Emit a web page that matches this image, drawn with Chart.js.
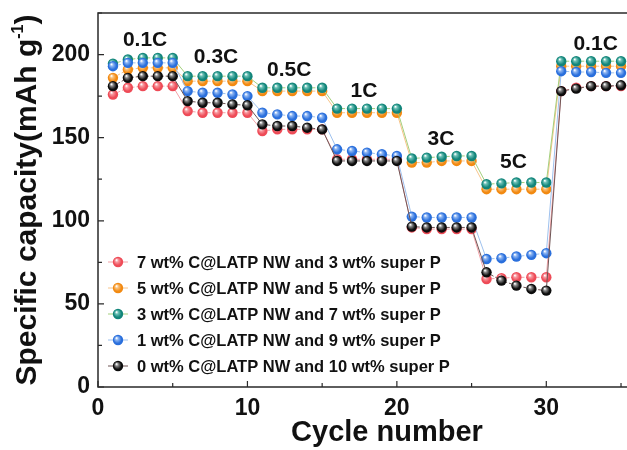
<!DOCTYPE html>
<html>
<head>
<meta charset="utf-8">
<script src="https://cdn.jsdelivr.net/npm/chart.js@4.4.1/dist/chart.umd.min.js"></script>
<style>
  html, body { margin: 0; padding: 0; background: #fff; }
  #wrap { width: 627px; height: 450px; }
</style>
</head>
<body>
<div id="wrap"><canvas id="chart" width="627" height="450"></canvas></div>
<script>
// Cycle numbers (x axis)
const cycles = [1, 2, 3, 4, 5, 6, 7, 8, 9, 10, 11, 12, 13, 14, 15, 16, 17, 18,
  19, 20, 21, 22, 23, 24, 25, 26, 27, 28, 29, 30, 31, 32, 33, 34, 35]

// Specific capacity (mAh g-1)
const red7 = [176, 180, 181, 181, 181, 166, 165, 165, 165, 165, 154, 155, 155, 155, 155,
  137, 137, 137, 137, 137, 96, 95, 95, 95, 95, 65, 65.5, 66, 66, 66, 178, 180, 181, 181, 181]
const orange5 = [186, 191, 192, 192, 192, 184, 184, 184, 184, 184, 178, 178, 178, 178, 178,
  165, 165, 165, 165, 165, 135, 135, 136, 136, 136, 119, 119, 119, 119, 119, 193, 193, 193, 193, 193]
const teal3 = [194.5, 197, 198, 198, 198, 187, 187, 187, 187, 187, 180, 180, 180, 180, 180,
  167.5, 167.5, 167.5, 167.5, 167.5, 137.5, 138, 138.5, 139, 139, 122, 122.5, 123, 123, 123,
  196, 196, 196, 196, 196]
const blue1 = [193, 195, 195, 195, 195, 178, 177, 177, 176, 175, 165, 164, 163, 163, 162,
  143, 142, 141, 140, 139, 102.5, 102, 102, 102, 102, 77, 77.5, 78.5, 79.5, 80.5,
  190, 189.5, 189.5, 189, 189]
const black0 = [181, 186, 187, 187, 187, 172, 171, 171, 170, 169.5, 158, 157, 157, 156, 155,
  136, 136, 136, 136, 136, 96.5, 96, 96, 96, 96, 69, 64, 61, 59, 58, 178, 179.5, 181, 181, 181.5]

const seriesLabels = [
  "7 wt% C@LATP NW and 3 wt% super P",
  "5 wt% C@LATP NW and 5 wt% super P",
  "3 wt% C@LATP NW and 7 wt% super P",
  "1 wt% C@LATP NW and 9 wt% super P",
  "0 wt% C@LATP NW and 10 wt% super P",
]

// C-rate annotations
const rateLabels = ["0.1C", "0.3C", "0.5C", "1C", "3C", "5C", "0.1C"]
const rateCycle = [3.15, 7.9, 12.8, 17.8, 22.95, 27.8, 33.3]
const rateValue = [208.5, 198.5, 190.5, 178, 149, 135, 206.5]

const xTicks = [0, 5, 10, 15, 20, 25, 30, 35]
const yTicks = [0, 25, 50, 75, 100, 125, 150, 175, 200, 225]

const FONT = "'Liberation Sans', Arial, sans-serif"

// Shaded sphere look for the markers
function sphere(base, light) {
  return (ctx) => {
    if (ctx.type !== "data" || !ctx.raw) return base
    const chart = ctx.chart
    const px = chart.scales.x.getPixelForValue(ctx.raw.x)
    const py = chart.scales.y.getPixelForValue(ctx.raw.y)
    if (!isFinite(px) || !isFinite(py)) return base
    const g = chart.ctx.createRadialGradient(px - 1.6, py - 2, 0.3, px, py, 5.5)
    g.addColorStop(0, "#ffffff")
    g.addColorStop(0.25, light)
    g.addColorStop(0.7, base)
    g.addColorStop(1, base)
    return g
  }
}

const styles = [
  { fill: "#ee4b57", light: "#f79aa0", line: "#f3a3a8" },
  { fill: "#f28a12", light: "#f9c27e", line: "#f8c48a" },
  { fill: "#12857a", light: "#6cc1b6", line: "#a3cf7c" },
  { fill: "#2a6fdc", light: "#8db5f2", line: "#9ec1ee" },
  { fill: "#0c0c0c", light: "#8a8a8a", line: "#6e5454" },
]

const values = [red7, orange5, teal3, blue1, black0]

const datasets = values.map((vals, i) => ({
  label: seriesLabels[i],
  data: cycles.map((c, k) => ({ x: c, y: vals[k] })),
  order: 4 - i,
  borderColor: styles[i].line,
  borderWidth: 1,
  pointRadius: 5.2,
  pointBorderWidth: 0,
  pointBackgroundColor: sphere(styles[i].fill, styles[i].light),
  segment: {
    borderDash: (ctx) =>
      Math.floor((ctx.p0DataIndex) / 5) === Math.floor((ctx.p1DataIndex) / 5) ? [3, 2] : undefined,
  },
  borderDash: [],
  tension: 0,
}))

const decorPlugin = {
  id: "decor",
  afterDatasetsDraw(chart) {
    const { ctx, chartArea: a, scales: { x, y } } = chart
    ctx.save()

    // Frame
    ctx.strokeStyle = "#2a2a2a"
    ctx.lineWidth = 1.5
    ctx.beginPath()
    ctx.moveTo(a.right, a.top)
    ctx.lineTo(a.left, a.top)
    ctx.lineTo(a.left, a.bottom)
    ctx.lineTo(a.right, a.bottom)
    ctx.stroke()

    // Inward ticks
    ctx.lineWidth = 1.2
    ctx.beginPath()
    xTicks.forEach((v) => {
      const px = x.getPixelForValue(v)
      const len = v % 10 === 0 ? 6 : 4
      ctx.moveTo(px, a.bottom)
      ctx.lineTo(px, a.bottom - len)
    })
    yTicks.forEach((v) => {
      const py = y.getPixelForValue(v)
      const len = v % 50 === 0 ? 6 : 4
      ctx.moveTo(a.left, py)
      ctx.lineTo(a.left + len, py)
    })
    ctx.stroke()

    ctx.fillStyle = "#111"

    // Rate annotations
    ctx.font = `bold 21px ${FONT}`
    ctx.textAlign = "center"
    ctx.textBaseline = "middle"
    rateLabels.forEach((t, i) => {
      ctx.fillText(t, x.getPixelForValue(rateCycle[i]), y.getPixelForValue(rateValue[i]))
    })

    // Legend
    ctx.textAlign = "left"
    ctx.font = `bold 16.5px ${FONT}`
    chart.data.datasets.forEach((ds, i) => {
      const ry = 262 + i * 26
      ctx.strokeStyle = styles[i].line
      ctx.lineWidth = 1
      ctx.beginPath()
      ctx.moveTo(108, ry)
      ctx.lineTo(128, ry)
      ctx.stroke()
      const g = ctx.createRadialGradient(116.4, ry - 2, 0.3, 118, ry, 5.5)
      g.addColorStop(0, "#ffffff")
      g.addColorStop(0.25, styles[i].light)
      g.addColorStop(0.7, styles[i].fill)
      g.addColorStop(1, styles[i].fill)
      ctx.fillStyle = g
      ctx.beginPath()
      ctx.arc(118, ry, 5.2, 0, Math.PI * 2)
      ctx.fill()
      ctx.fillStyle = "#111"
      ctx.fillText(ds.label, 137, ry + 1)
    })

    // X title
    ctx.textAlign = "center"
    ctx.font = `bold 29px ${FONT}`
    ctx.fillText("Cycle number", 387, 433)

    // Y title with superscript
    ctx.translate(28, 200)
    ctx.rotate(-Math.PI / 2)
    const main = "Specific capacity(mAh g"
    const sup = "-1"
    const tail = ")"
    ctx.font = `bold 30px ${FONT}`
    const wMain = ctx.measureText(main).width
    const wTail = ctx.measureText(tail).width
    ctx.font = `bold 16px ${FONT}`
    const wSup = ctx.measureText(sup).width
    let sx = -(wMain + wSup + wTail) / 2
    ctx.textAlign = "left"
    ctx.font = `bold 30px ${FONT}`
    ctx.fillText(main, sx, 0)
    sx += wMain
    ctx.font = `bold 16px ${FONT}`
    ctx.fillText(sup, sx, -9)
    sx += wSup
    ctx.font = `bold 30px ${FONT}`
    ctx.fillText(tail, sx, 0)

    ctx.restore()
  },
}

new Chart(document.getElementById("chart"), {
  type: "line",
  data: { datasets },
  options: {
    responsive: false,
    animation: false,
    devicePixelRatio: 1,
    events: [],
    layout: { autoPadding: false, padding: { top: 13, right: 0, left: 0, bottom: 0 } },
    plugins: { legend: { display: false }, tooltip: { enabled: false } },
    scales: {
      x: {
        type: "linear",
        min: 0,
        max: 35.4,
        afterFit: (s) => {
          s.height = 63
          s.paddingLeft = 0
          s.paddingRight = 0
        },
        grid: { display: false, drawTicks: false },
        border: { display: false },
        ticks: {
          stepSize: 5,
          padding: 8,
          maxRotation: 0,
          autoSkip: false,
          color: "#111",
          font: { family: FONT, size: 23, weight: "bold" },
          callback: (v) => (v % 10 === 0 ? v : ""),
        },
      },
      y: {
        min: 0,
        max: 225,
        afterFit: (s) => {
          s.width = 98
          s.paddingTop = 0
          s.paddingBottom = 0
        },
        grid: { display: false, drawTicks: false },
        border: { display: false },
        ticks: {
          stepSize: 25,
          padding: 8,
          autoSkip: false,
          color: "#111",
          font: { family: FONT, size: 23, weight: "bold" },
          callback: (v) => (v % 50 === 0 ? v : ""),
        },
      },
    },
  },
  plugins: [decorPlugin],
})
</script>
</body>
</html>
